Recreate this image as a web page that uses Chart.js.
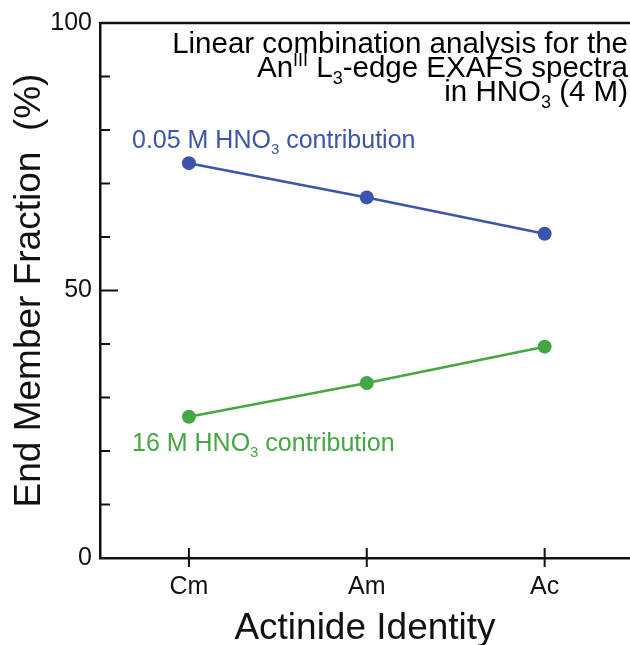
<!DOCTYPE html>
<html>
<head>
<meta charset="utf-8">
<script src="https://cdn.jsdelivr.net/npm/chart.js@4.4.1/dist/chart.umd.min.js"></script>
<style>
  html, body { margin: 0; padding: 0; background: #fff; }
  #wrap { width: 630px; height: 645px; position: relative; }
</style>
</head>
<body>
<div id="wrap"><canvas id="chart"></canvas></div>
<script>
// ── Data ─────────────────────────────────
const actinides   = ['Cm', 'Am', 'Ac'];
const lowAcid     = [73.8, 67.4, 60.6];   // 0.05 M HNO3 contribution
const highAcid    = [26.4, 32.7, 39.5];   // 16 M HNO3 contribution
const yTickLabels = [0, 50, 100];
const yMinorStep  = 10;

const BLUE  = '#3b54b0';
const GREEN = '#45a744';
const FONT  = '"Liberation Sans", Arial, Helvetica, sans-serif';

const toPoints = arr => arr.map((v, i) => ({ x: i, y: v }));

// ── Rich text helper (sub/superscripts) ──
function drawRich(ctx, parts, x, y, size, color, align) {
    const small = Math.round(size * 0.6);
    let total = 0;
    parts.forEach(p => {
        ctx.font = `${p.sub || p.sup ? small : size}px ${FONT}`;
        p.w = ctx.measureText(p.t).width;
        total += p.w;
    });
    let cx = align === 'right' ? x - total : x;
    ctx.fillStyle = color;
    ctx.textBaseline = 'alphabetic';
    ctx.textAlign = 'left';
    parts.forEach(p => {
        ctx.font = `${p.sub || p.sup ? small : size}px ${FONT}`;
        let dy = 0;
        if (p.sub) dy = size * 0.25;
        if (p.sup) dy = -size * 0.38;
        ctx.fillText(p.t, cx, y + dy);
        cx += p.w;
    });
}

// ── Axis decorations + labels ────────────
const decorPlugin = {
    id: 'decor',
    afterDraw(chart) {
        const { ctx, chartArea: a, scales: { x, y } } = chart;
        ctx.save();
        ctx.strokeStyle = '#111';
        ctx.lineWidth = 2.5;

        // top frame line
        ctx.beginPath();
        ctx.moveTo(a.left, a.top);
        ctx.lineTo(chart.width, a.top);
        ctx.stroke();

        // y ticks (inward)
        ctx.lineWidth = 2;
        for (let v = y.min; v <= y.max; v += yMinorStep) {
            const py = y.getPixelForValue(v);
            const len = yTickLabels.includes(v) ? 18 : 10;
            ctx.beginPath();
            ctx.moveTo(a.left, py);
            ctx.lineTo(a.left + len, py);
            ctx.stroke();
        }
        // x ticks (crossing)
        actinides.forEach((c, i) => {
            const px = x.getPixelForValue(i);
            ctx.beginPath();
            ctx.moveTo(px, a.bottom - 10);
            ctx.lineTo(px, a.bottom + 9);
            ctx.stroke();
        });

        // annotation block
        const r = chart.width - 2;
        drawRich(ctx, [{ t: 'Linear combination analysis for the' }], r, a.top + 30, 29.5, '#000', 'right');
        drawRich(ctx, [{ t: 'An' }, { t: 'III', sup: true }, { t: ' L' }, { t: '3', sub: true }, { t: '-edge EXAFS spectra' }],
                 r, a.top + 54, 29.5, '#000', 'right');
        drawRich(ctx, [{ t: 'in HNO' }, { t: '3', sub: true }, { t: ' (4 M)' }], r, a.top + 78, 29.5, '#000', 'right');

        // series labels
        const lx = a.left + 32;
        drawRich(ctx, [{ t: '0.05 M HNO' }, { t: '3', sub: true }, { t: ' contribution' }],
                 lx, y.getPixelForValue(76.7), 25, BLUE, 'left');
        drawRich(ctx, [{ t: '16 M HNO' }, { t: '3', sub: true }, { t: ' contribution' }],
                 lx, y.getPixelForValue(20.0), 25, GREEN, 'left');
        ctx.restore();
    }
};

// ── Chart ────────────────────────────────
new Chart(document.getElementById('chart'), {
    type: 'line',
    data: {
        datasets: [
            { label: '0.05 M HNO3', data: toPoints(lowAcid),  borderColor: BLUE,  backgroundColor: BLUE,
              borderWidth: 2.5, pointRadius: 7, pointHoverRadius: 7, pointBorderWidth: 0 },
            { label: '16 M HNO3',   data: toPoints(highAcid), borderColor: GREEN, backgroundColor: GREEN,
              borderWidth: 2.5, pointRadius: 7, pointHoverRadius: 7, pointBorderWidth: 0 },
        ]
    },
    options: {
        responsive: true,
        maintainAspectRatio: false,
        animation: false,
        layout: { autoPadding: false, padding: { top: 22, right: 0, left: 0, bottom: 0 } },
        plugins: { legend: { display: false }, tooltip: { enabled: false } },
        scales: {
            x: {
                type: 'linear',
                min: -0.5,
                max: 2.48,
                afterBuildTicks: s => { s.ticks = actinides.map((c, i) => ({ value: i })); },
                afterFit: s => { s.height = 87; s.paddingLeft = 0; s.paddingRight = 0; },
                grid: { display: false, drawTicks: false },
                border: { display: true, color: '#111', width: 2.5 },
                ticks: {
                    padding: 14, color: '#111', font: { family: FONT, size: 25 },
                    callback: v => actinides[v] ?? ''
                },
                title: {
                    display: true, text: 'Actinide Identity', color: '#111',
                    font: { family: FONT, size: 37, lineHeight: 0.9 }, padding: { top: 0, bottom: 0 }
                }
            },
            y: {
                min: 0,
                max: 100,
                afterBuildTicks: s => { s.ticks = yTickLabels.map(v => ({ value: v })); },
                afterFit: s => { s.width = 100; },
                grid: { display: false, drawTicks: false },
                border: { display: true, color: '#111', width: 2.5 },
                ticks: { padding: 8, color: '#111', font: { family: FONT, size: 25 } },
                title: {
                    display: true, text: 'End Member Fraction  (%)', color: '#111',
                    font: { family: FONT, size: 37 }, padding: { top: 8, bottom: 0 }
                }
            }
        }
    },
    plugins: [decorPlugin]
});
</script>
</body>
</html>
